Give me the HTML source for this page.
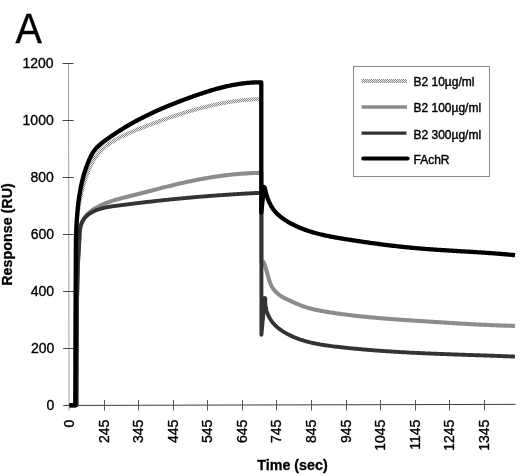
<!DOCTYPE html>
<html><head><meta charset="utf-8"><style>
html,body{margin:0;padding:0;background:#fff;width:520px;height:476px;overflow:hidden;font-family:"Liberation Sans",sans-serif}
</style></head><body>
<svg width="520" height="476" viewBox="0 0 520 476" style="position:absolute;left:0;top:0;filter:grayscale(1)">
<defs>
<pattern id="chk" patternUnits="userSpaceOnUse" width="2" height="2"><rect width="2" height="2" fill="#ececec"/><rect x="0" y="0" width="1" height="1" fill="#888"/><rect x="1" y="1" width="1" height="1" fill="#888"/></pattern>
</defs>
<text stroke="#000" stroke-width="0.4" transform="translate(15.5,42.7) scale(0.93,1)" font-family='"Liberation Sans", sans-serif' font-size="42.5" fill="#000">A</text>
<line x1="68.5" y1="63" x2="69.07" y2="410.5" stroke="#a0a0a0" stroke-width="1"/>
<line x1="62.50" y1="63.5" x2="73.50" y2="63.5" stroke="#444" stroke-width="1"/>
<text x="53.60" y="68.1" stroke="#000" stroke-width="0.35" text-anchor="end" font-family='"Liberation Sans", sans-serif' font-size="14" fill="#000">1200</text>
<line x1="62.63" y1="120.5" x2="73.63" y2="120.5" stroke="#444" stroke-width="1"/>
<text x="53.73" y="125.1" stroke="#000" stroke-width="0.35" text-anchor="end" font-family='"Liberation Sans", sans-serif' font-size="14" fill="#000">1000</text>
<line x1="62.76" y1="177.5" x2="73.76" y2="177.5" stroke="#444" stroke-width="1"/>
<text x="53.86" y="182.1" stroke="#000" stroke-width="0.35" text-anchor="end" font-family='"Liberation Sans", sans-serif' font-size="14" fill="#000">800</text>
<line x1="62.89" y1="234.5" x2="73.89" y2="234.5" stroke="#444" stroke-width="1"/>
<text x="53.99" y="239.1" stroke="#000" stroke-width="0.35" text-anchor="end" font-family='"Liberation Sans", sans-serif' font-size="14" fill="#000">600</text>
<line x1="63.02" y1="291.5" x2="74.02" y2="291.5" stroke="#444" stroke-width="1"/>
<text x="54.12" y="296.1" stroke="#000" stroke-width="0.35" text-anchor="end" font-family='"Liberation Sans", sans-serif' font-size="14" fill="#000">400</text>
<line x1="63.16" y1="348.5" x2="74.16" y2="348.5" stroke="#444" stroke-width="1"/>
<text x="54.26" y="353.1" stroke="#000" stroke-width="0.35" text-anchor="end" font-family='"Liberation Sans", sans-serif' font-size="14" fill="#000">200</text>
<line x1="63.29" y1="405.5" x2="74.29" y2="405.5" stroke="#444" stroke-width="1"/>
<text x="54.39" y="410.1" stroke="#000" stroke-width="0.35" text-anchor="end" font-family='"Liberation Sans", sans-serif' font-size="14" fill="#000">0</text>
<line x1="64.5" y1="405.45" x2="515.5" y2="404.35" stroke="#3c3c3c" stroke-width="1"/>
<text transform="translate(74.3,419.6) rotate(-90)" stroke="#000" stroke-width="0.35" text-anchor="end" font-family='"Liberation Sans", sans-serif' font-size="14" fill="#000">0</text>
<line x1="104.5" y1="400" x2="104.5" y2="410.5" stroke="#555" stroke-width="1"/>
<text transform="translate(109.3,419.6) rotate(-90)" stroke="#000" stroke-width="0.35" text-anchor="end" font-family='"Liberation Sans", sans-serif' font-size="14" fill="#000">245</text>
<line x1="138.5" y1="400" x2="138.5" y2="410.5" stroke="#555" stroke-width="1"/>
<text transform="translate(143.3,419.6) rotate(-90)" stroke="#000" stroke-width="0.35" text-anchor="end" font-family='"Liberation Sans", sans-serif' font-size="14" fill="#000">345</text>
<line x1="173.5" y1="400" x2="173.5" y2="410.5" stroke="#555" stroke-width="1"/>
<text transform="translate(178.3,419.6) rotate(-90)" stroke="#000" stroke-width="0.35" text-anchor="end" font-family='"Liberation Sans", sans-serif' font-size="14" fill="#000">445</text>
<line x1="207.5" y1="400" x2="207.5" y2="410.5" stroke="#555" stroke-width="1"/>
<text transform="translate(212.3,419.6) rotate(-90)" stroke="#000" stroke-width="0.35" text-anchor="end" font-family='"Liberation Sans", sans-serif' font-size="14" fill="#000">545</text>
<line x1="242.5" y1="400" x2="242.5" y2="410.5" stroke="#555" stroke-width="1"/>
<text transform="translate(247.3,419.6) rotate(-90)" stroke="#000" stroke-width="0.35" text-anchor="end" font-family='"Liberation Sans", sans-serif' font-size="14" fill="#000">645</text>
<line x1="276.5" y1="400" x2="276.5" y2="410.5" stroke="#555" stroke-width="1"/>
<text transform="translate(281.3,419.6) rotate(-90)" stroke="#000" stroke-width="0.35" text-anchor="end" font-family='"Liberation Sans", sans-serif' font-size="14" fill="#000">745</text>
<line x1="311.5" y1="400" x2="311.5" y2="410.5" stroke="#555" stroke-width="1"/>
<text transform="translate(316.3,419.6) rotate(-90)" stroke="#000" stroke-width="0.35" text-anchor="end" font-family='"Liberation Sans", sans-serif' font-size="14" fill="#000">845</text>
<line x1="346.5" y1="400" x2="346.5" y2="410.5" stroke="#555" stroke-width="1"/>
<text transform="translate(351.3,419.6) rotate(-90)" stroke="#000" stroke-width="0.35" text-anchor="end" font-family='"Liberation Sans", sans-serif' font-size="14" fill="#000">945</text>
<line x1="380.5" y1="400" x2="380.5" y2="410.5" stroke="#555" stroke-width="1"/>
<text transform="translate(385.3,419.6) rotate(-90)" stroke="#000" stroke-width="0.35" text-anchor="end" font-family='"Liberation Sans", sans-serif' font-size="14" fill="#000">1045</text>
<line x1="415.5" y1="400" x2="415.5" y2="410.5" stroke="#555" stroke-width="1"/>
<text transform="translate(420.3,419.6) rotate(-90)" stroke="#000" stroke-width="0.35" text-anchor="end" font-family='"Liberation Sans", sans-serif' font-size="14" fill="#000">1145</text>
<line x1="449.5" y1="400" x2="449.5" y2="410.5" stroke="#555" stroke-width="1"/>
<text transform="translate(454.3,419.6) rotate(-90)" stroke="#000" stroke-width="0.35" text-anchor="end" font-family='"Liberation Sans", sans-serif' font-size="14" fill="#000">1245</text>
<line x1="484.5" y1="400" x2="484.5" y2="410.5" stroke="#555" stroke-width="1"/>
<text transform="translate(489.3,419.6) rotate(-90)" stroke="#000" stroke-width="0.35" text-anchor="end" font-family='"Liberation Sans", sans-serif' font-size="14" fill="#000">1345</text>
<text transform="translate(12.0,234.5) rotate(-90)" stroke="#000" stroke-width="0.3" text-anchor="middle" font-family='"Liberation Sans", sans-serif' font-weight="bold" font-size="14.3" fill="#000">Response (RU)</text>
<text x="292.5" y="469.7" stroke="#000" stroke-width="0.3" text-anchor="middle" font-family='"Liberation Sans", sans-serif' font-weight="bold" font-size="14.3" fill="#000">Time (sec)</text>
<polyline points="69.50,405.30 75.50,405.30 75.80,300.00 76.30,240.00 76.35,238.91 76.34,237.92 76.33,236.93 76.34,235.94 76.34,234.95 76.36,233.96 76.37,232.97 76.40,231.98 76.42,230.99 76.46,230.00 76.50,229.00 76.54,228.01 76.59,227.02 76.65,226.02 76.71,225.03 76.77,224.03 76.84,223.04 76.92,222.04 77.00,221.05 77.09,220.05 77.18,219.06 77.28,218.06 77.38,217.06 77.49,216.07 77.60,215.07 77.72,214.07 77.84,213.08 77.97,212.08 78.11,211.08 78.25,210.08 78.40,209.09 78.55,208.09 78.70,207.09 78.87,206.10 79.03,205.10 79.21,204.10 79.39,203.11 79.57,202.11 79.76,201.12 79.95,200.12 80.15,199.12 80.36,198.13 80.57,197.13 80.79,196.14 81.01,195.14 81.24,194.15 81.47,193.16 81.71,192.16 81.95,191.17 82.20,190.18 82.46,189.19 82.72,188.20 82.99,187.21 83.26,186.22 83.53,185.24 83.82,184.25 84.10,183.27 84.40,182.30 84.70,181.32 85.00,180.35 85.31,179.38 85.63,178.42 85.95,177.46 86.27,176.50 86.60,175.55 86.94,174.60 87.28,173.66 87.63,172.72 87.99,171.79 88.35,170.86 88.72,169.94 89.10,169.03 89.49,168.12 89.89,167.22 90.29,166.32 90.71,165.43 91.14,164.56 91.58,163.68 92.03,162.82 92.49,161.97 92.96,161.12 93.45,160.28 93.95,159.45 94.47,158.64 95.00,157.83 95.55,157.03 96.11,156.24 96.69,155.46 97.29,154.70 97.90,153.94 98.53,153.20 99.18,152.47 99.85,151.75 100.53,151.04 101.23,150.34 101.94,149.66 102.67,148.98 103.41,148.32 104.16,147.67 104.93,147.03 105.71,146.40 106.49,145.78 107.29,145.17 108.09,144.58 108.91,143.99 109.73,143.42 110.56,142.85 111.39,142.30 112.24,141.76 113.08,141.22 113.94,140.70 114.80,140.18 115.67,139.68 116.54,139.18 117.42,138.69 118.30,138.21 119.19,137.74 120.08,137.27 120.97,136.81 121.88,136.36 122.78,135.92 123.69,135.48 124.60,135.05 125.52,134.63 126.44,134.21 127.36,133.79 128.29,133.38 129.22,132.98 130.15,132.58 131.08,132.18 132.02,131.79 132.95,131.40 133.89,131.01 134.84,130.63 135.78,130.25 136.72,129.87 137.66,129.50 138.61,129.13 139.56,128.76 140.50,128.39 141.45,128.02 142.39,127.65 143.34,127.28 144.29,126.92 145.23,126.55 146.18,126.19 147.12,125.82 148.07,125.46 149.02,125.10 149.96,124.74 150.91,124.38 151.86,124.03 152.81,123.67 153.75,123.32 154.70,122.97 155.65,122.61 156.60,122.26 157.55,121.92 158.49,121.57 159.44,121.22 160.39,120.88 161.34,120.54 162.29,120.19 163.24,119.86 164.19,119.52 165.14,119.18 166.09,118.85 167.04,118.51 167.99,118.18 168.94,117.85 169.90,117.53 170.85,117.20 171.80,116.88 172.75,116.56 173.71,116.24 174.66,115.92 175.61,115.60 176.57,115.29 177.52,114.97 178.48,114.67 179.43,114.36 180.39,114.05 181.35,113.75 182.30,113.45 183.26,113.15 184.22,112.85 185.18,112.56 186.14,112.26 187.09,111.97 188.05,111.68 189.01,111.40 189.98,111.12 190.94,110.84 191.90,110.56 192.86,110.28 193.82,110.01 194.79,109.74 195.75,109.47 196.72,109.20 197.68,108.94 198.65,108.68 199.61,108.42 200.58,108.17 201.55,107.92 202.52,107.67 203.49,107.42 204.46,107.18 205.43,106.94 206.40,106.70 207.37,106.47 208.34,106.23 209.32,106.00 210.29,105.78 211.26,105.56 212.24,105.34 213.22,105.12 214.19,104.91 215.17,104.70 216.15,104.49 217.13,104.28 218.11,104.08 219.09,103.89 220.07,103.69 221.05,103.50 222.04,103.31 223.02,103.13 224.01,102.95 224.99,102.77 225.98,102.60 226.97,102.43 227.95,102.26 228.94,102.10 229.93,101.94 230.92,101.78 231.92,101.63 232.91,101.48 233.90,101.33 234.90,101.19 235.89,101.05 236.89,100.92 237.89,100.79 238.89,100.66 239.89,100.54 240.89,100.42 241.89,100.31 242.89,100.20 243.90,100.09 244.90,99.99 245.91,99.89 246.91,99.79 247.92,99.70 248.93,99.62 249.94,99.54 250.95,99.46 251.97,99.38 252.98,99.31 253.99,99.25 255.01,99.19 256.03,99.13 257.04,99.08 258.06,99.03 259.00,99.30 261.00,99.30 261.00,215.00" fill="none" stroke="url(#chk)" stroke-width="4" stroke-linejoin="round"/>
<polyline points="69.50,405.30 76.50,405.30 77.00,300.00 78.00,262.00 78.80,250.00 79.30,240.00 79.51,239.10 79.43,238.14 79.39,237.17 79.37,236.18 79.37,235.17 79.41,234.15 79.47,233.12 79.57,232.09 79.69,231.05 79.84,230.01 80.02,228.97 80.23,227.94 80.48,226.91 80.75,225.89 81.06,224.88 81.39,223.89 81.76,222.92 82.16,221.97 82.59,221.04 83.06,220.13 83.56,219.25 84.09,218.40 84.65,217.58 85.24,216.78 85.86,216.01 86.51,215.26 87.18,214.54 87.87,213.84 88.59,213.16 89.33,212.50 90.09,211.86 90.87,211.24 91.66,210.65 92.47,210.07 93.30,209.51 94.14,208.97 94.99,208.44 95.86,207.93 96.73,207.44 97.61,206.96 98.50,206.50 99.39,206.05 100.29,205.61 101.20,205.19 102.10,204.77 103.01,204.37 103.92,203.98 104.84,203.60 105.75,203.23 106.68,202.87 107.60,202.52 108.52,202.18 109.45,201.85 110.38,201.52 111.32,201.21 112.25,200.90 113.19,200.60 114.13,200.30 115.08,200.01 116.02,199.73 116.97,199.45 117.92,199.18 118.87,198.91 119.83,198.65 120.78,198.39 121.74,198.14 122.70,197.89 123.66,197.64 124.63,197.39 125.59,197.15 126.56,196.91 127.53,196.67 128.50,196.43 129.47,196.19 130.44,195.95 131.42,195.71 132.39,195.47 133.37,195.23 134.34,194.99 135.32,194.74 136.30,194.50 137.28,194.25 138.27,194.00 139.25,193.75 140.23,193.50 141.21,193.25 142.20,192.99 143.18,192.74 144.17,192.48 145.16,192.22 146.14,191.97 147.13,191.71 148.12,191.45 149.10,191.19 150.09,190.93 151.08,190.68 152.07,190.42 153.06,190.16 154.04,189.90 155.03,189.64 156.02,189.39 157.01,189.13 157.99,188.87 158.98,188.62 159.97,188.37 160.95,188.11 161.94,187.86 162.92,187.61 163.91,187.36 164.89,187.12 165.88,186.87 166.86,186.63 167.84,186.38 168.83,186.14 169.81,185.90 170.79,185.66 171.77,185.42 172.76,185.19 173.74,184.95 174.72,184.72 175.70,184.49 176.68,184.26 177.66,184.03 178.64,183.80 179.62,183.58 180.60,183.35 181.58,183.13 182.56,182.91 183.54,182.69 184.52,182.47 185.50,182.26 186.48,182.04 187.46,181.83 188.44,181.62 189.42,181.42 190.40,181.21 191.38,181.01 192.36,180.80 193.34,180.60 194.32,180.41 195.30,180.21 196.28,180.02 197.26,179.82 198.25,179.63 199.23,179.45 200.21,179.26 201.19,179.08 202.17,178.89 203.15,178.71 204.14,178.54 205.12,178.36 206.10,178.19 207.08,178.02 208.07,177.85 209.05,177.69 210.04,177.52 211.02,177.36 212.01,177.20 212.99,177.05 213.98,176.89 214.97,176.74 215.95,176.59 216.94,176.45 217.93,176.30 218.92,176.16 219.91,176.02 220.90,175.89 221.89,175.75 222.88,175.62 223.87,175.50 224.86,175.37 225.85,175.25 226.85,175.13 227.84,175.01 228.84,174.90 229.83,174.79 230.83,174.68 231.83,174.57 232.82,174.47 233.82,174.37 234.82,174.27 235.82,174.18 236.82,174.09 237.82,174.00 238.83,173.91 239.83,173.83 240.84,173.75 241.84,173.68 242.85,173.60 243.86,173.53 244.86,173.47 245.87,173.40 246.88,173.34 247.90,173.29 248.91,173.23 249.92,173.18 250.94,173.14 251.95,173.09 252.97,173.05 253.99,173.02 255.01,172.98 256.03,172.95 257.05,172.93 258.07,172.90 259.00,173.10 261.40,173.10 261.40,262.00 263.50,262.00 263.85,262.94 264.22,263.84 264.57,264.75 264.90,265.68 265.23,266.62 265.54,267.56 265.85,268.52 266.15,269.49 266.44,270.46 266.72,271.44 267.00,272.42 267.28,273.41 267.55,274.40 267.83,275.39 268.11,276.37 268.39,277.36 268.67,278.34 268.96,279.31 269.26,280.28 269.56,281.24 269.88,282.19 270.22,283.13 270.59,284.06 270.99,284.98 271.43,285.88 271.91,286.76 272.44,287.63 273.01,288.48 273.62,289.31 274.27,290.11 274.95,290.90 275.66,291.66 276.39,292.40 277.15,293.10 277.93,293.79 278.73,294.44 279.54,295.06 280.36,295.65 281.19,296.20 282.03,296.72 282.87,297.22 283.72,297.69 284.58,298.14 285.44,298.58 286.30,299.00 287.17,299.41 288.05,299.81 288.94,300.22 289.82,300.62 290.72,301.03 291.62,301.44 292.52,301.86 293.43,302.28 294.34,302.69 295.26,303.11 296.18,303.51 297.11,303.92 298.04,304.31 298.98,304.70 299.92,305.08 300.86,305.44 301.81,305.79 302.76,306.14 303.71,306.47 304.67,306.79 305.63,307.10 306.59,307.40 307.56,307.69 308.53,307.97 309.50,308.24 310.47,308.50 311.45,308.76 312.43,309.00 313.41,309.24 314.40,309.47 315.38,309.70 316.37,309.92 317.36,310.13 318.35,310.33 319.34,310.53 320.33,310.73 321.33,310.91 322.33,311.10 323.32,311.28 324.32,311.45 325.32,311.62 326.32,311.79 327.32,311.96 328.32,312.12 329.32,312.28 330.32,312.43 331.32,312.59 332.32,312.74 333.32,312.89 334.32,313.04 335.32,313.19 336.32,313.33 337.32,313.48 338.32,313.62 339.32,313.76 340.32,313.89 341.32,314.03 342.33,314.16 343.33,314.30 344.33,314.43 345.33,314.56 346.33,314.68 347.33,314.81 348.33,314.93 349.33,315.06 350.33,315.18 351.33,315.30 352.33,315.41 353.34,315.53 354.34,315.64 355.34,315.76 356.34,315.87 357.34,315.98 358.34,316.09 359.34,316.20 360.34,316.30 361.35,316.41 362.35,316.51 363.35,316.61 364.35,316.71 365.35,316.81 366.35,316.91 367.35,317.01 368.36,317.10 369.36,317.20 370.36,317.29 371.36,317.39 372.36,317.48 373.36,317.57 374.37,317.66 375.37,317.75 376.37,317.83 377.37,317.92 378.37,318.00 379.38,318.09 380.38,318.17 381.38,318.26 382.38,318.34 383.38,318.42 384.39,318.50 385.39,318.58 386.39,318.66 387.39,318.73 388.39,318.81 389.40,318.89 390.40,318.96 391.40,319.04 392.40,319.11 393.41,319.19 394.41,319.26 395.41,319.33 396.41,319.41 397.42,319.48 398.42,319.55 399.42,319.62 400.42,319.69 401.43,319.76 402.43,319.83 403.43,319.90 404.44,319.97 405.44,320.03 406.44,320.10 407.44,320.17 408.45,320.24 409.45,320.30 410.45,320.37 411.46,320.44 412.46,320.50 413.46,320.57 414.47,320.64 415.47,320.70 416.47,320.77 417.48,320.83 418.48,320.90 419.48,320.97 420.49,321.03 421.49,321.10 422.49,321.16 423.50,321.23 424.50,321.29 425.51,321.36 426.51,321.43 427.51,321.49 428.52,321.56 429.52,321.62 430.53,321.69 431.53,321.75 432.53,321.82 433.54,321.88 434.54,321.95 435.55,322.01 436.55,322.08 437.55,322.14 438.56,322.21 439.56,322.27 440.57,322.34 441.57,322.40 442.58,322.46 443.58,322.53 444.59,322.59 445.59,322.65 446.59,322.72 447.60,322.78 448.60,322.84 449.61,322.90 450.61,322.97 451.62,323.03 452.62,323.09 453.63,323.15 454.63,323.21 455.64,323.27 456.64,323.33 457.65,323.39 458.65,323.45 459.66,323.51 460.66,323.57 461.67,323.62 462.67,323.68 463.68,323.74 464.69,323.80 465.69,323.85 466.70,323.91 467.70,323.96 468.71,324.02 469.71,324.07 470.72,324.13 471.73,324.18 472.73,324.24 473.74,324.29 474.74,324.34 475.75,324.39 476.76,324.44 477.76,324.49 478.77,324.54 479.77,324.59 480.78,324.64 481.79,324.69 482.79,324.74 483.80,324.79 484.81,324.83 485.81,324.88 486.82,324.92 487.83,324.97 488.83,325.01 489.84,325.06 490.85,325.10 491.85,325.14 492.86,325.18 493.87,325.22 494.87,325.26 495.88,325.30 496.89,325.34 497.89,325.38 498.90,325.42 499.91,325.45 500.92,325.49 501.92,325.52 502.93,325.56 503.94,325.59 504.95,325.63 505.95,325.66 506.96,325.69 507.97,325.72 508.98,325.75 509.98,325.78 510.99,325.80 512.00,325.83 513.01,325.86 514.02,325.88 515.00,326.00" fill="none" stroke="#8c8c8c" stroke-width="4.1" stroke-linejoin="round"/>
<polyline points="69.50,405.30 76.50,405.30 77.00,300.00 78.00,262.00 78.80,250.00 79.30,240.00 79.48,239.08 79.49,238.12 79.51,237.14 79.54,236.14 79.57,235.13 79.62,234.11 79.69,233.08 79.78,232.04 79.88,231.00 80.01,229.97 80.17,228.93 80.35,227.91 80.57,226.89 80.82,225.88 81.10,224.89 81.42,223.92 81.79,222.97 82.19,222.04 82.64,221.13 83.14,220.26 83.68,219.41 84.27,218.60 84.90,217.81 85.57,217.06 86.27,216.34 87.00,215.65 87.77,215.00 88.56,214.37 89.38,213.78 90.22,213.23 91.08,212.71 91.96,212.22 92.85,211.76 93.75,211.33 94.66,210.92 95.57,210.54 96.49,210.17 97.41,209.83 98.34,209.50 99.27,209.19 100.20,208.90 101.14,208.62 102.08,208.36 103.02,208.11 103.97,207.88 104.92,207.65 105.87,207.44 106.83,207.25 107.78,207.06 108.74,206.88 109.71,206.71 110.67,206.55 111.64,206.39 112.61,206.24 113.59,206.10 114.56,205.97 115.54,205.83 116.52,205.70 117.51,205.57 118.49,205.45 119.48,205.32 120.47,205.20 121.46,205.08 122.45,204.95 123.44,204.83 124.44,204.70 125.44,204.58 126.44,204.46 127.44,204.33 128.44,204.21 129.44,204.09 130.45,203.96 131.45,203.84 132.46,203.72 133.47,203.60 134.48,203.47 135.49,203.35 136.50,203.23 137.51,203.11 138.52,202.99 139.54,202.87 140.55,202.75 141.57,202.63 142.58,202.51 143.60,202.39 144.61,202.28 145.63,202.16 146.64,202.04 147.66,201.93 148.68,201.81 149.69,201.69 150.71,201.58 151.72,201.47 152.74,201.35 153.75,201.24 154.77,201.13 155.78,201.01 156.80,200.90 157.81,200.79 158.82,200.68 159.83,200.57 160.85,200.47 161.86,200.36 162.87,200.25 163.88,200.14 164.88,200.04 165.89,199.93 166.90,199.83 167.90,199.73 168.91,199.62 169.91,199.52 170.92,199.42 171.92,199.32 172.93,199.22 173.93,199.12 174.93,199.02 175.93,198.92 176.93,198.82 177.93,198.73 178.93,198.63 179.93,198.53 180.93,198.44 181.93,198.35 182.93,198.25 183.93,198.16 184.92,198.07 185.92,197.98 186.92,197.88 187.92,197.79 188.91,197.70 189.91,197.61 190.90,197.53 191.90,197.44 192.90,197.35 193.89,197.26 194.89,197.18 195.88,197.09 196.88,197.01 197.87,196.92 198.87,196.84 199.86,196.76 200.86,196.68 201.85,196.59 202.84,196.51 203.84,196.43 204.83,196.35 205.83,196.27 206.82,196.20 207.82,196.12 208.81,196.04 209.81,195.96 210.80,195.89 211.80,195.81 212.79,195.74 213.79,195.66 214.79,195.59 215.78,195.51 216.78,195.44 217.77,195.37 218.77,195.30 219.77,195.23 220.77,195.16 221.76,195.09 222.76,195.02 223.76,194.95 224.76,194.88 225.76,194.81 226.76,194.74 227.76,194.68 228.76,194.61 229.76,194.55 230.77,194.48 231.77,194.42 232.77,194.35 233.77,194.29 234.78,194.23 235.78,194.16 236.79,194.10 237.79,194.04 238.80,193.98 239.81,193.92 240.82,193.86 241.83,193.80 242.84,193.74 243.85,193.68 244.86,193.62 245.87,193.57 246.88,193.51 247.90,193.45 248.91,193.40 249.92,193.34 250.94,193.29 251.96,193.23 252.98,193.18 254.00,193.13 255.02,193.07 256.04,193.02 257.06,192.97 258.08,192.92 259.00,193.00 261.40,193.00 261.40,334.80 264.80,298.00 265.28,298.71 265.24,299.86 265.23,301.00 265.25,302.12 265.31,303.23 265.39,304.32 265.51,305.40 265.66,306.46 265.83,307.50 266.04,308.53 266.27,309.54 266.53,310.54 266.82,311.52 267.14,312.48 267.48,313.43 267.85,314.36 268.24,315.27 268.66,316.17 269.11,317.05 269.58,317.91 270.07,318.76 270.59,319.58 271.13,320.39 271.70,321.19 272.28,321.96 272.89,322.72 273.52,323.46 274.17,324.18 274.84,324.89 275.53,325.58 276.24,326.25 276.96,326.91 277.70,327.55 278.46,328.17 279.23,328.78 280.02,329.38 280.82,329.96 281.63,330.52 282.46,331.08 283.29,331.61 284.14,332.14 285.00,332.65 285.86,333.15 286.73,333.63 287.61,334.10 288.50,334.56 289.40,335.01 290.29,335.45 291.20,335.88 292.11,336.29 293.02,336.69 293.93,337.09 294.85,337.47 295.78,337.84 296.71,338.21 297.64,338.56 298.58,338.90 299.52,339.23 300.46,339.56 301.41,339.87 302.36,340.18 303.31,340.48 304.27,340.76 305.23,341.04 306.19,341.32 307.16,341.58 308.13,341.84 309.10,342.09 310.08,342.33 311.05,342.56 312.03,342.79 313.01,343.01 314.00,343.23 314.99,343.43 315.97,343.64 316.96,343.83 317.96,344.02 318.95,344.21 319.95,344.39 320.95,344.56 321.95,344.73 322.95,344.89 323.95,345.05 324.95,345.21 325.96,345.36 326.96,345.51 327.97,345.65 328.98,345.79 329.98,345.93 330.99,346.06 332.00,346.19 333.01,346.32 334.02,346.44 335.03,346.57 336.04,346.69 337.06,346.81 338.07,346.92 339.08,347.04 340.09,347.15 341.10,347.26 342.11,347.38 343.12,347.49 344.13,347.60 345.14,347.70 346.15,347.81 347.16,347.92 348.17,348.02 349.18,348.12 350.19,348.22 351.19,348.33 352.20,348.43 353.21,348.52 354.22,348.62 355.23,348.72 356.23,348.81 357.24,348.91 358.25,349.00 359.25,349.09 360.26,349.18 361.27,349.27 362.27,349.36 363.28,349.45 364.29,349.54 365.29,349.63 366.30,349.71 367.30,349.79 368.31,349.88 369.31,349.96 370.32,350.04 371.33,350.12 372.33,350.20 373.33,350.28 374.34,350.36 375.34,350.43 376.35,350.51 377.35,350.59 378.36,350.66 379.36,350.73 380.36,350.81 381.37,350.88 382.37,350.95 383.37,351.02 384.38,351.09 385.38,351.15 386.38,351.22 387.39,351.29 388.39,351.36 389.39,351.42 390.40,351.48 391.40,351.55 392.40,351.61 393.40,351.67 394.41,351.73 395.41,351.80 396.41,351.86 397.41,351.91 398.42,351.97 399.42,352.03 400.42,352.09 401.42,352.15 402.42,352.20 403.43,352.26 404.43,352.31 405.43,352.37 406.43,352.42 407.43,352.47 408.44,352.52 409.44,352.58 410.44,352.63 411.44,352.68 412.44,352.73 413.44,352.78 414.45,352.83 415.45,352.88 416.45,352.92 417.45,352.97 418.45,353.02 419.45,353.06 420.46,353.11 421.46,353.16 422.46,353.20 423.46,353.25 424.46,353.29 425.47,353.33 426.47,353.38 427.47,353.42 428.47,353.46 429.47,353.50 430.47,353.55 431.48,353.59 432.48,353.63 433.48,353.67 434.48,353.71 435.49,353.75 436.49,353.79 437.49,353.83 438.49,353.87 439.49,353.91 440.50,353.94 441.50,353.98 442.50,354.02 443.51,354.06 444.51,354.09 445.51,354.13 446.51,354.17 447.52,354.20 448.52,354.24 449.52,354.28 450.53,354.31 451.53,354.35 452.53,354.38 453.54,354.42 454.54,354.46 455.55,354.49 456.55,354.53 457.55,354.56 458.56,354.60 459.56,354.63 460.57,354.66 461.57,354.70 462.58,354.73 463.58,354.77 464.59,354.80 465.59,354.84 466.60,354.87 467.60,354.90 468.61,354.94 469.62,354.97 470.62,355.01 471.63,355.04 472.63,355.07 473.64,355.11 474.65,355.14 475.65,355.18 476.66,355.21 477.67,355.24 478.68,355.28 479.68,355.31 480.69,355.35 481.70,355.38 482.71,355.42 483.72,355.45 484.73,355.49 485.74,355.52 486.74,355.56 487.75,355.59 488.76,355.63 489.77,355.66 490.78,355.70 491.79,355.73 492.80,355.77 493.81,355.81 494.83,355.84 495.84,355.88 496.85,355.92 497.86,355.95 498.87,355.99 499.88,356.03 500.90,356.07 501.91,356.10 502.92,356.14 503.94,356.18 504.95,356.22 505.96,356.26 506.98,356.30 507.99,356.34 509.01,356.38 510.02,356.42 511.04,356.46 512.05,356.50 513.07,356.55 514.08,356.59 515.00,356.70" fill="none" stroke="#333" stroke-width="3.9" stroke-linejoin="round"/>
<polyline points="69.50,405.30 75.30,405.30 75.60,300.00 75.90,240.00 75.96,238.99 75.99,237.98 76.02,236.98 76.05,235.98 76.09,234.98 76.13,233.97 76.16,232.97 76.20,231.96 76.24,230.96 76.29,229.95 76.33,228.95 76.38,227.94 76.43,226.93 76.48,225.93 76.53,224.92 76.58,223.91 76.64,222.91 76.70,221.90 76.76,220.90 76.82,219.89 76.89,218.88 76.96,217.88 77.03,216.87 77.11,215.86 77.19,214.86 77.27,213.85 77.35,212.85 77.44,211.84 77.53,210.84 77.62,209.83 77.72,208.83 77.82,207.82 77.92,206.82 78.03,205.82 78.14,204.82 78.26,203.82 78.38,202.82 78.50,201.82 78.63,200.82 78.76,199.82 78.90,198.82 79.04,197.82 79.19,196.83 79.34,195.83 79.49,194.84 79.65,193.85 79.81,192.85 79.98,191.86 80.16,190.87 80.34,189.88 80.52,188.89 80.71,187.91 80.90,186.92 81.10,185.94 81.31,184.96 81.52,183.97 81.74,182.99 81.97,182.01 82.20,181.04 82.43,180.06 82.68,179.09 82.93,178.11 83.18,177.14 83.45,176.17 83.72,175.20 84.00,174.24 84.28,173.27 84.58,172.31 84.88,171.35 85.19,170.39 85.50,169.43 85.83,168.47 86.16,167.52 86.50,166.57 86.85,165.62 87.21,164.67 87.58,163.73 87.96,162.78 88.34,161.84 88.74,160.90 89.14,159.96 89.56,159.03 89.98,158.10 90.42,157.18 90.87,156.26 91.33,155.36 91.81,154.47 92.31,153.59 92.82,152.74 93.35,151.91 93.90,151.09 94.47,150.31 95.07,149.55 95.68,148.82 96.32,148.10 96.98,147.41 97.65,146.74 98.35,146.08 99.06,145.43 99.79,144.79 100.53,144.15 101.29,143.52 102.07,142.90 102.86,142.27 103.66,141.66 104.47,141.04 105.29,140.43 106.12,139.83 106.95,139.22 107.79,138.62 108.64,138.03 109.48,137.44 110.32,136.85 111.17,136.27 112.02,135.69 112.86,135.11 113.71,134.54 114.55,133.98 115.40,133.41 116.25,132.85 117.10,132.30 117.95,131.74 118.80,131.20 119.66,130.65 120.51,130.11 121.37,129.57 122.23,129.04 123.09,128.51 123.95,127.98 124.81,127.46 125.68,126.94 126.54,126.43 127.41,125.92 128.28,125.41 129.15,124.90 130.02,124.40 130.89,123.91 131.77,123.41 132.64,122.92 133.52,122.43 134.40,121.95 135.28,121.47 136.16,120.99 137.05,120.52 137.93,120.05 138.82,119.58 139.70,119.11 140.59,118.65 141.48,118.19 142.37,117.74 143.27,117.28 144.16,116.83 145.06,116.38 145.95,115.94 146.85,115.50 147.75,115.06 148.65,114.62 149.55,114.19 150.46,113.76 151.36,113.33 152.27,112.91 153.17,112.49 154.08,112.07 154.99,111.65 155.90,111.23 156.81,110.82 157.73,110.41 158.64,110.00 159.56,109.60 160.47,109.20 161.39,108.80 162.31,108.40 163.23,108.00 164.15,107.61 165.08,107.22 166.00,106.83 166.93,106.44 167.85,106.06 168.78,105.67 169.71,105.29 170.64,104.91 171.57,104.54 172.50,104.16 173.43,103.79 174.37,103.42 175.30,103.05 176.24,102.68 177.18,102.31 178.11,101.95 179.05,101.59 179.99,101.23 180.93,100.87 181.88,100.51 182.82,100.15 183.77,99.80 184.71,99.45 185.66,99.10 186.60,98.75 187.55,98.40 188.50,98.05 189.45,97.70 190.40,97.36 191.36,97.02 192.31,96.68 193.26,96.34 194.22,96.00 195.18,95.66 196.13,95.33 197.09,94.99 198.05,94.66 199.01,94.33 199.97,94.01 200.93,93.68 201.89,93.36 202.86,93.04 203.82,92.73 204.78,92.41 205.75,92.10 206.72,91.79 207.68,91.49 208.65,91.19 209.62,90.89 210.59,90.59 211.56,90.30 212.53,90.01 213.50,89.73 214.48,89.45 215.45,89.17 216.42,88.90 217.40,88.63 218.37,88.37 219.35,88.11 220.33,87.85 221.31,87.60 222.28,87.35 223.26,87.11 224.24,86.88 225.22,86.64 226.21,86.42 227.19,86.19 228.17,85.98 229.15,85.76 230.14,85.56 231.12,85.36 232.11,85.16 233.09,84.97 234.08,84.79 235.07,84.61 236.05,84.44 237.04,84.27 238.03,84.11 239.02,83.96 240.01,83.81 241.00,83.67 241.99,83.53 242.98,83.41 243.97,83.29 244.97,83.17 245.96,83.07 246.95,82.97 247.95,82.87 248.94,82.79 249.94,82.71 250.93,82.64 251.93,82.58 252.93,82.52 253.92,82.47 254.92,82.43 255.92,82.40 256.92,82.38 257.91,82.36 259.00,82.40 261.30,82.40 261.30,212.50 264.00,187.00 264.75,187.73 264.96,188.72 265.17,189.71 265.40,190.70 265.64,191.69 265.90,192.68 266.16,193.67 266.45,194.65 266.74,195.63 267.05,196.60 267.38,197.57 267.72,198.53 268.08,199.48 268.46,200.42 268.85,201.35 269.27,202.28 269.70,203.19 270.14,204.09 270.61,204.98 271.10,205.85 271.61,206.71 272.14,207.56 272.69,208.39 273.26,209.20 273.85,209.99 274.47,210.77 275.11,211.53 275.76,212.27 276.44,212.99 277.14,213.70 277.85,214.39 278.59,215.06 279.34,215.72 280.10,216.37 280.88,217.00 281.67,217.61 282.47,218.21 283.29,218.80 284.12,219.37 284.96,219.93 285.80,220.48 286.66,221.01 287.52,221.54 288.39,222.05 289.27,222.55 290.15,223.04 291.03,223.52 291.92,223.99 292.81,224.45 293.71,224.91 294.61,225.35 295.51,225.78 296.42,226.20 297.33,226.62 298.24,227.02 299.16,227.42 300.07,227.81 301.00,228.19 301.92,228.56 302.85,228.92 303.78,229.28 304.72,229.62 305.66,229.96 306.60,230.29 307.54,230.62 308.48,230.94 309.43,231.25 310.38,231.55 311.34,231.85 312.29,232.14 313.25,232.42 314.21,232.70 315.17,232.97 316.14,233.23 317.10,233.49 318.07,233.75 319.04,234.00 320.02,234.24 320.99,234.48 321.97,234.71 322.94,234.94 323.92,235.16 324.90,235.38 325.89,235.59 326.87,235.80 327.86,236.01 328.84,236.21 329.83,236.41 330.82,236.60 331.81,236.79 332.80,236.98 333.79,237.17 334.79,237.35 335.78,237.53 336.78,237.70 337.77,237.87 338.77,238.05 339.77,238.21 340.76,238.38 341.76,238.54 342.76,238.71 343.76,238.87 344.76,239.03 345.76,239.19 346.76,239.34 347.76,239.50 348.76,239.65 349.76,239.81 350.76,239.96 351.76,240.12 352.76,240.27 353.76,240.42 354.76,240.57 355.76,240.72 356.76,240.87 357.76,241.02 358.76,241.17 359.76,241.32 360.76,241.47 361.76,241.62 362.76,241.76 363.75,241.91 364.75,242.05 365.75,242.20 366.75,242.34 367.75,242.48 368.75,242.63 369.75,242.77 370.75,242.91 371.75,243.05 372.75,243.18 373.75,243.32 374.74,243.46 375.74,243.59 376.74,243.73 377.74,243.86 378.74,244.00 379.74,244.13 380.74,244.26 381.74,244.39 382.73,244.52 383.73,244.65 384.73,244.77 385.73,244.90 386.73,245.03 387.73,245.15 388.73,245.27 389.72,245.39 390.72,245.52 391.72,245.63 392.72,245.75 393.72,245.87 394.72,245.99 395.72,246.10 396.71,246.21 397.71,246.33 398.71,246.44 399.71,246.55 400.71,246.66 401.71,246.76 402.71,246.87 403.71,246.98 404.70,247.08 405.70,247.18 406.70,247.28 407.70,247.38 408.70,247.48 409.70,247.58 410.70,247.67 411.70,247.76 412.70,247.86 413.69,247.95 414.69,248.04 415.69,248.13 416.69,248.21 417.69,248.30 418.69,248.38 419.69,248.47 420.69,248.55 421.69,248.63 422.69,248.71 423.69,248.79 424.69,248.87 425.69,248.95 426.69,249.02 427.69,249.10 428.69,249.17 429.69,249.24 430.69,249.32 431.69,249.39 432.69,249.46 433.69,249.53 434.69,249.60 435.69,249.67 436.69,249.74 437.69,249.80 438.69,249.87 439.69,249.94 440.69,250.00 441.69,250.07 442.69,250.13 443.69,250.19 444.69,250.26 445.69,250.32 446.70,250.38 447.70,250.44 448.70,250.51 449.70,250.57 450.70,250.63 451.70,250.69 452.70,250.75 453.71,250.81 454.71,250.87 455.71,250.93 456.71,250.99 457.72,251.05 458.72,251.11 459.72,251.17 460.72,251.23 461.73,251.29 462.73,251.35 463.73,251.41 464.74,251.47 465.74,251.53 466.74,251.59 467.75,251.65 468.75,251.71 469.75,251.77 470.76,251.83 471.76,251.89 472.77,251.95 473.77,252.01 474.78,252.08 475.78,252.14 476.78,252.20 477.79,252.27 478.80,252.33 479.80,252.39 480.81,252.46 481.81,252.52 482.82,252.59 483.82,252.66 484.83,252.73 485.84,252.79 486.84,252.86 487.85,252.93 488.86,253.00 489.86,253.07 490.87,253.14 491.88,253.22 492.88,253.29 493.89,253.37 494.90,253.44 495.91,253.52 496.92,253.60 497.92,253.67 498.93,253.75 499.94,253.83 500.95,253.92 501.96,254.00 502.97,254.08 503.98,254.17 504.99,254.25 506.00,254.34 507.01,254.43 508.02,254.52 509.03,254.61 510.04,254.71 511.05,254.80 512.06,254.90 513.07,254.99 514.08,255.09 515.00,255.20" fill="none" stroke="#000" stroke-width="4.3" stroke-linejoin="round"/>
<rect x="353.5" y="66.5" width="136" height="110" fill="#fff" stroke="#8a8a8a" stroke-width="1"/>
<line x1="361.5" y1="81" x2="407" y2="81" stroke="url(#chk)" stroke-width="4" stroke-linecap="butt"/>
<text x="413.5" y="86.4" stroke="#000" stroke-width="0.4" font-family='"Liberation Sans", sans-serif' font-size="12" fill="#000">B2 10µg/ml</text>
<line x1="361.5" y1="107" x2="407" y2="107" stroke="#8c8c8c" stroke-width="3.5" stroke-linecap="butt"/>
<text x="413.5" y="112.4" stroke="#000" stroke-width="0.4" font-family='"Liberation Sans", sans-serif' font-size="12" fill="#000">B2 100µg/ml</text>
<line x1="361.5" y1="133.2" x2="406.5" y2="133.2" stroke="#333" stroke-width="3.2" stroke-linecap="butt"/>
<text x="413.5" y="138.6" stroke="#000" stroke-width="0.4" font-family='"Liberation Sans", sans-serif' font-size="12" fill="#000">B2 300µg/ml</text>
<line x1="363.2" y1="158.5" x2="407.7" y2="158.5" stroke="#000" stroke-width="4" stroke-linecap="round"/>
<text x="413.5" y="163.9" stroke="#000" stroke-width="0.4" font-family='"Liberation Sans", sans-serif' font-size="12" fill="#000">FAchR</text>
</svg>
</body></html>
